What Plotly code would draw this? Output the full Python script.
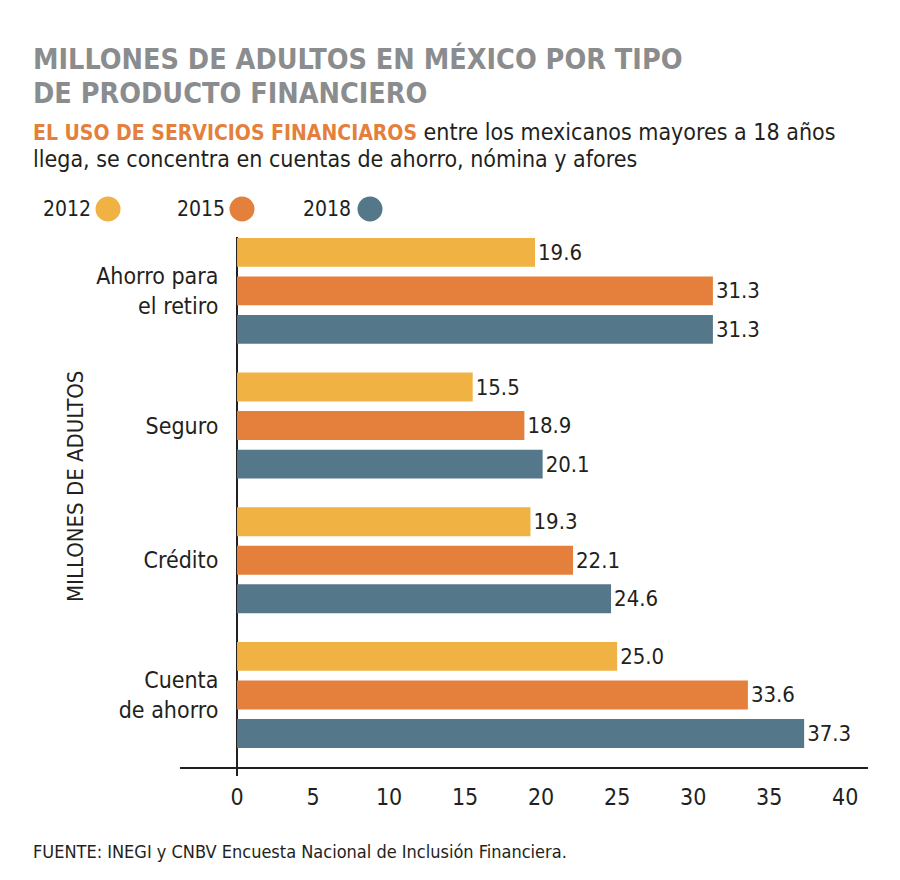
import plotly.graph_objects as go

categories = ["Ahorro para<br>el retiro", "Seguro", "Crédito", "Cuenta<br>de ahorro"]
years = ["2012", "2015", "2018"]
values_2012 = [19.6, 15.5, 19.3, 25.0]
values_2015 = [31.3, 18.9, 22.1, 33.6]
values_2018 = [31.3, 20.1, 24.6, 37.3]
x_ticks = [0, 5, 10, 15, 20, 25, 30, 35, 40]

colors = ["#F0B242", "#E4803B", "#55778A"]
series = [values_2012, values_2015, values_2018]

FONT = "'DejaVu Sans Condensed', 'Liberation Sans Narrow', 'Roboto', sans-serif"
DARK = "#231f20"

L, R, T, B = 180, 868, 237, 767
W, H = R - L, B - T
def px(x):
    return (x - L) / W
def py(y):
    return (B - y) / H

fig = go.Figure()
for yr, vals, col in zip(years, series, colors):
    fig.add_trace(go.Bar(
        y=list(range(len(categories))), x=vals, orientation="h", name=yr,
        marker=dict(color=col, line=dict(width=0)),
        text=[f"{v:.1f}" for v in vals], textposition="outside",
        textfont=dict(family=FONT, size=22, color=DARK),
        constraintext="none", cliponaxis=False, showlegend=False,
    ))

fig.update_layout(
    width=900, height=880,
    margin=dict(l=L, r=900 - R, t=T, b=880 - B),
    paper_bgcolor="white", plot_bgcolor="white",
    barmode="group", bargap=0.142, bargroupgap=0.25,
    font=dict(family=FONT, color=DARK),
    xaxis=dict(range=[-3.75, 41.5], tickvals=x_ticks, ticktext=[str(t) for t in x_ticks],
               showgrid=False, zeroline=True, zerolinecolor=DARK, zerolinewidth=2,
               showline=True, linecolor=DARK, linewidth=2,
               ticks="outside", ticklen=8, tickcolor="rgba(0,0,0,0)",
               tickfont=dict(family=FONT, size=23, color=DARK)),
    yaxis=dict(range=[3.535, -0.40], tickvals=list(range(len(categories))), ticktext=categories,
               anchor="free", position=px(237),
               showgrid=False, zeroline=False, showline=False,
               ticks="outside", ticklen=14, tickcolor="rgba(0,0,0,0)",
               tickfont=dict(family=FONT, size=23, color=DARK)),
)

ann = []
ann.append(dict(text="<b>MILLONES DE ADULTOS EN MÉXICO POR TIPO</b>", x=px(31), y=py(59),
                xanchor="left", yanchor="middle", font=dict(size=28.5, color="#8B8C8E")))
ann.append(dict(text="<b>DE PRODUCTO FINANCIERO</b>", x=px(31), y=py(94),
                xanchor="left", yanchor="middle", font=dict(size=28.5, color="#8B8C8E")))
ann.append(dict(text="<b><span style='color:#E4803B;font-size:21px'>EL USO DE SERVICIOS FINANCIAROS</span></b> entre los mexicanos mayores a 18 años",
                x=px(31), y=py(132), xanchor="left", yanchor="middle", font=dict(size=23, color=DARK)))
ann.append(dict(text="llega, se concentra en cuentas de ahorro, nómina y afores",
                x=px(31), y=py(159), xanchor="left", yanchor="middle", font=dict(size=23, color=DARK)))
ann.append(dict(text="MILLONES DE ADULTOS", textangle=-90, x=px(75), y=py(487),
                xanchor="center", yanchor="middle", font=dict(size=22, color=DARK)))
ann.append(dict(text="FUENTE: INEGI y CNBV Encuesta Nacional de Inclusión Financiera.",
                x=px(31), y=py(851), xanchor="left", yanchor="middle", font=dict(size=18, color=DARK)))

legend_text_right = [93, 227, 353]
legend_circle_cx = [108, 242, 370]
shapes = [dict(type="line", xref="x", yref="paper", x0=0, x1=0, y0=py(776), y1=0,
               line=dict(color=DARK, width=2), layer="below")]
for yr, tr, cx, col in zip(years, legend_text_right, legend_circle_cx, colors):
    ann.append(dict(text=yr, x=px(tr), y=py(209), xanchor="right", yanchor="middle",
                    font=dict(size=21, color=DARK)))
    r = 12.5
    shapes.append(dict(type="circle", xref="paper", yref="paper",
                       x0=px(cx - r), x1=px(cx + r), y0=py(209 + r), y1=py(209 - r),
                       fillcolor=col, line=dict(width=0)))

for a in ann:
    a.update(xref="paper", yref="paper", showarrow=False)
fig.update_layout(annotations=ann, shapes=shapes)

fig.write_html("out.html")
